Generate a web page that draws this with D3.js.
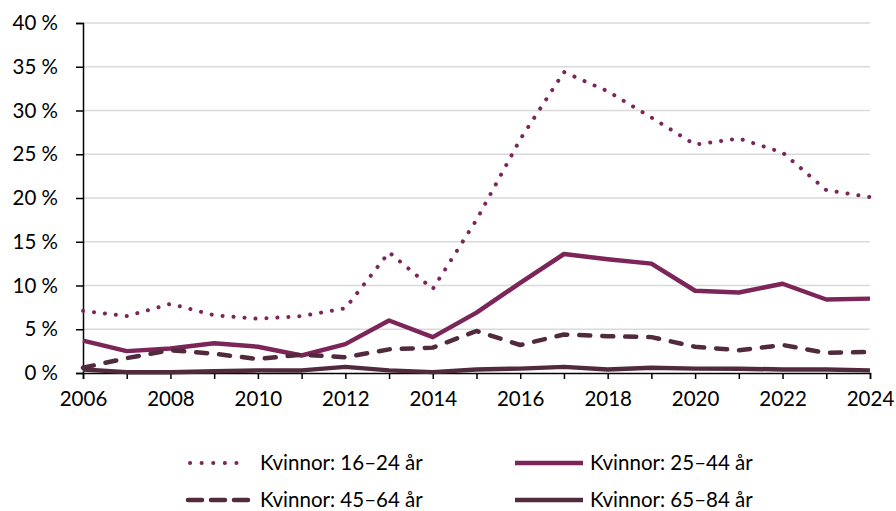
<!DOCTYPE html>
<html><head><meta charset="utf-8">
<script src="https://cdn.jsdelivr.net/npm/d3@7"></script>
<style>
body{margin:0;background:#fff;}
text{font-family:Lato,"Noto Sans",sans-serif;fill:#000;}
</style></head>
<body><svg id="c" width="896" height="511"></svg>
<script>
const years = d3.range(2006, 2025);
const seriesNames = ["Kvinnor: 16–24 år","Kvinnor: 25–44 år","Kvinnor: 45–64 år","Kvinnor: 65–84 år"];
const v16_24 = [7.1,6.5,7.9,6.6,6.2,6.5,7.4,13.8,9.6,17.5,26.7,34.4,32.2,29.2,26.1,26.8,25.2,20.9,20.1];
const v25_44 = [3.7,2.5,2.8,3.4,3.0,2.0,3.3,6.0,4.1,6.9,10.3,13.6,13.0,12.5,9.4,9.2,10.2,8.4,8.5];
const v45_64 = [0.6,1.7,2.6,2.2,1.6,2.1,1.8,2.7,2.9,4.8,3.2,4.4,4.2,4.1,3.0,2.6,3.2,2.3,2.4];
const v65_84 = [0.4,0.1,0.1,0.2,0.3,0.3,0.7,0.3,0.1,0.4,0.5,0.7,0.4,0.6,0.5,0.5,0.4,0.4,0.3];
const yTicks = [0,5,10,15,20,25,30,35,40];
const xTickLabels = [2006,2008,2010,2012,2014,2016,2018,2020,2022,2024];

const colors = ["#7b2559","#7b2559","#522a3e","#522a3e"];
const dashes = ["0.1,10.9", null, "11,12", null];
const values = [v16_24, v25_44, v45_64, v65_84];

const svg = d3.select("#c");
const x = d3.scaleLinear().domain([2006,2024]).range([83,870]);
const y = d3.scaleLinear().domain([0,40]).range([373,23]);

// gridlines
svg.append("g").selectAll("line").data(yTicks.filter(t=>t>0)).join("line")
  .attr("x1",83).attr("x2",870).attr("y1",d=>y(d)).attr("y2",d=>y(d))
  .attr("stroke","#d9d9d9").attr("stroke-width",1.5);

// y axis
const yAxis = svg.append("g").attr("transform","translate(83,0)")
  .call(d3.axisLeft(y).tickValues(yTicks).tickSize(7).tickPadding(18).tickFormat(d=>d+" %"));
yAxis.select(".domain").attr("stroke","#000").attr("stroke-width",1.5);
yAxis.selectAll(".tick line").attr("stroke","#000").attr("stroke-width",1.5);
yAxis.selectAll("text").attr("font-size","20.5px").attr("font-family","Lato");

// x axis
const xAxis = svg.append("g").attr("transform","translate(0,373)")
  .call(d3.axisBottom(x).tickValues(years).tickSize(6).tickPadding(12)
    .tickFormat(d=>xTickLabels.includes(d)?String(d):""));
xAxis.select(".domain").attr("stroke","#000").attr("stroke-width",1.5);
xAxis.selectAll(".tick line").attr("stroke","#000").attr("stroke-width",1.5);
xAxis.selectAll("text").attr("font-size","20.5px").attr("font-family","Lato");

const line = d3.line().x((d,i)=>x(years[i])).y(d=>y(d));
values.forEach((vals,k)=>{
  const p = svg.append("path").datum(vals).attr("d",line)
    .attr("fill","none").attr("stroke",colors[k])
    .attr("stroke-width",k===0?4:4.5)
    .attr("stroke-linejoin","round")
    .attr("stroke-linecap",dashes[k]?"round":"butt");
  if(dashes[k]) p.attr("stroke-dasharray",dashes[k]);
});

// legend
const leg = [
  {i:0,x:188,y:463},{i:1,x:515,y:463},{i:2,x:188,y:500},{i:3,x:515,y:500}
];
leg.forEach(l=>{
  const g = svg.append("g");
  const k=l.i;
  const x1 = l.x + (k===0?2:0), x2 = l.x + (k===0?60:68);
  const ln = g.append("line").attr("x1",x1).attr("x2",x2).attr("y1",l.y).attr("y2",l.y)
    .attr("stroke",colors[k]).attr("stroke-width",k===0?4:4.5)
    .attr("stroke-linecap",dashes[k]?"round":"butt");
  if(dashes[k]) ln.attr("stroke-dasharray",k===0?"0.1,11.5":"14,9");
  g.append("text").attr("x",l.x+(k%2===0?72:75)).attr("y",l.y).attr("dy","0.35em")
    .attr("font-size","20.5px").text(seriesNames[k]);
});
</script></body></html>
